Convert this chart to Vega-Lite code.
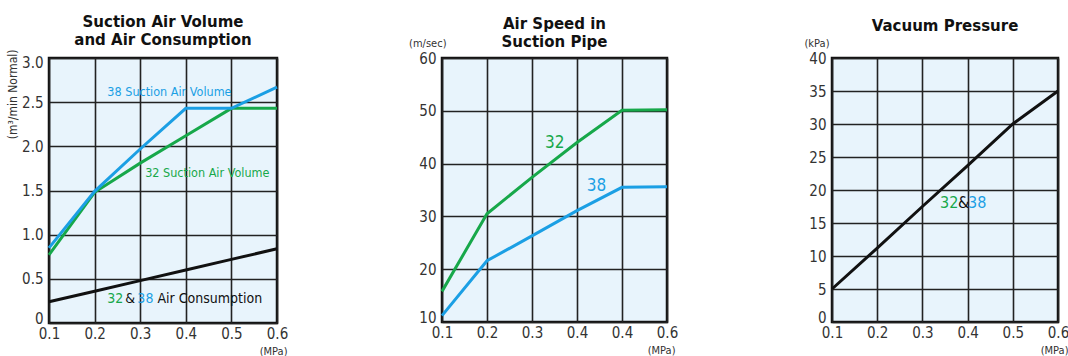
{
  "$schema": "https://vega.github.io/schema/vega-lite/v6.json",
  "padding": {"left": 4, "top": 13, "right": 0, "bottom": 0},
  "background": "white",
  "bounds": "flush",
  "spacing": 165,
  "datasets": {
    "vol": [
      {"p": 0.1, "v": 0.77, "s": "32"}, {"p": 0.2, "v": 1.48, "s": "32"}, {"p": 0.3, "v": 1.81, "s": "32"},
      {"p": 0.4, "v": 2.12, "s": "32"}, {"p": 0.5, "v": 2.43, "s": "32"}, {"p": 0.6, "v": 2.43, "s": "32"},
      {"p": 0.1, "v": 0.85, "s": "38"}, {"p": 0.2, "v": 1.49, "s": "38"}, {"p": 0.3, "v": 1.97, "s": "38"},
      {"p": 0.4, "v": 2.43, "s": "38"}, {"p": 0.5, "v": 2.43, "s": "38"}, {"p": 0.6, "v": 2.67, "s": "38"},
      {"p": 0.1, "v": 0.24, "s": "both"}, {"p": 0.2, "v": 0.36, "s": "both"}, {"p": 0.3, "v": 0.48, "s": "both"},
      {"p": 0.4, "v": 0.6, "s": "both"}, {"p": 0.5, "v": 0.72, "s": "both"}, {"p": 0.6, "v": 0.84, "s": "both"}
    ],
    "volLab": [
      {"p": 0.228, "v": 2.61, "t": "38 Suction Air Volume", "s": "38"},
      {"p": 0.311, "v": 1.7, "t": "32 Suction Air Volume", "s": "32"}
    ],
    "airLab": [
      {"p": 0.2278, "v": 0.27, "t": "32", "s": "32"},
      {"p": 0.2674, "v": 0.27, "t": "&", "s": "both"},
      {"p": 0.2938, "v": 0.27, "t": "38", "s": "38"},
      {"p": 0.3379, "v": 0.27, "t": "Air Consumption", "s": "both"}
    ],
    "speed": [
      {"p": 0.1, "v": 15.8, "s": "32"}, {"p": 0.2, "v": 30.5, "s": "32"}, {"p": 0.3, "v": 37.4, "s": "32"},
      {"p": 0.4, "v": 44.0, "s": "32"}, {"p": 0.5, "v": 50.1, "s": "32"}, {"p": 0.6, "v": 50.2, "s": "32"},
      {"p": 0.1, "v": 11.2, "s": "38"}, {"p": 0.2, "v": 21.6, "s": "38"}, {"p": 0.3, "v": 26.3, "s": "38"},
      {"p": 0.4, "v": 31.1, "s": "38"}, {"p": 0.5, "v": 35.5, "s": "38"}, {"p": 0.6, "v": 35.6, "s": "38"}
    ],
    "speedLab": [
      {"p": 0.329, "v": 43.96, "t": "32", "s": "32"},
      {"p": 0.4216, "v": 35.76, "t": "38", "s": "38"}
    ],
    "vac": [
      {"p": 0.1, "v": 5, "s": "both"}, {"p": 0.2, "v": 11.2, "s": "both"}, {"p": 0.3, "v": 17.5, "s": "both"},
      {"p": 0.4, "v": 23.7, "s": "both"}, {"p": 0.5, "v": 30, "s": "both"}, {"p": 0.6, "v": 35, "s": "both"}
    ],
    "vacLab": [
      {"p": 0.339, "v": 18.0, "t": "32", "s": "32"},
      {"p": 0.379, "v": 18.0, "t": "&", "s": "both"},
      {"p": 0.401, "v": 18.0, "t": "38", "s": "38"}
    ]
  },
  "config": {
    "view": {"fill": "#e8f4fc", "stroke": "#111111", "strokeWidth": 2.5},
    "axis": {
      "grid": true, "gridColor": "#222222", "gridWidth": 1.6, "gridOpacity": 1,
      "domain": false, "ticks": false, "labelOverlap": false, "labelBound": false,
      "labelFont": "'DejaVu Sans Condensed', 'Liberation Sans Narrow', 'Roboto Condensed', Roboto, sans-serif", "labelFontSize": 15, "labelColor": "#333333",
      "titleFont": "'DejaVu Sans Condensed', 'Liberation Sans Narrow', 'Roboto Condensed', Roboto, sans-serif", "titleFontWeight": "normal", "titleFontSize": 11, "titleColor": "#333333"
    },
    "axisX": {"labelPadding": 3, "labelFlush": false, "titleAngle": 0, "titleAlign": "right", "titleBaseline": "alphabetic", "titleY": 31},
    "axisY": {"labelPadding": 6, "labelFlush": false},
    "title": {"font": "DejaVu Sans", "fontWeight": "bold", "fontSize": 15, "color": "#111111", "lineHeight": 18, "frame": "group", "anchor": "middle"},
    "text": {"font": "'DejaVu Sans Condensed', 'Liberation Sans Narrow', 'Roboto Condensed', Roboto, sans-serif"}
  },
  "hconcat": [
    {
      "width": 228, "height": 265,
      "title": {"text": ["Suction Air Volume", "and Air Consumption"], "offset": 1},
      "layer": [
        {
          "data": {"name": "vol"},
          "mark": {"type": "line", "strokeWidth": 3},
          "encoding": {
            "x": {"field": "p", "type": "quantitative", "scale": {"domain": [0.1, 0.6], "nice": false},
              "axis": {"values": [0.1, 0.2, 0.3, 0.4, 0.5, 0.6], "tickCount": 20, "format": ".1f", "title": "(MPa)", "titleX": 238}},
            "y": {"field": "v", "type": "quantitative", "scale": {"domain": [0, 3], "nice": false},
              "axis": {"values": [0, 0.5, 1, 1.5, 2, 2.5, 3], "tickCount": 20, "labelExpr": "datum.value == 0 ? '0' : format(datum.value, '.1f')",
                "labelBaseline": {"condition": {"test": "datum.value == 0", "value": "alphabetic"}, "value": "middle"},
                "labelOffset": {"condition": {"test": "datum.value == 3", "value": 4}, "value": 0},
                "title": "(m³/min Normal)", "titleFontSize": 12, "titleAngle": 270, "titleAlign": "right", "titleBaseline": "alphabetic", "titleX": -33, "titleY": -9}},
            "color": {"field": "s", "type": "nominal", "scale": {"domain": ["32", "38", "both"], "range": ["#17a84a", "#1b9fe4", "#111111"]}, "legend": null}
          }
        },
        {
          "data": {"name": "volLab"},
          "mark": {"type": "text", "align": "left", "baseline": "middle", "fontSize": 12.5},
          "encoding": {
            "x": {"field": "p", "type": "quantitative"},
            "y": {"field": "v", "type": "quantitative"},
            "text": {"field": "t"},
            "color": {"field": "s", "type": "nominal", "scale": {"domain": ["32", "38", "both"], "range": ["#17a84a", "#1b9fe4", "#111111"]}, "legend": null}
          }
        },
        {
          "data": {"name": "airLab"},
          "mark": {"type": "text", "align": "left", "baseline": "middle", "fontSize": 14},
          "encoding": {
            "x": {"field": "p", "type": "quantitative"},
            "y": {"field": "v", "type": "quantitative"},
            "text": {"field": "t"},
            "color": {"field": "s", "type": "nominal", "scale": {"domain": ["32", "38", "both"], "range": ["#17a84a", "#1b9fe4", "#111111"]}, "legend": null}
          }
        }
      ]
    },
    {
      "width": 225, "height": 264,
      "title": {"text": ["Air Speed in", "Suction Pipe"], "offset": -13},
      "layer": [
        {
          "data": {"name": "speed"},
          "mark": {"type": "line", "strokeWidth": 3},
          "encoding": {
            "x": {"field": "p", "type": "quantitative", "scale": {"domain": [0.1, 0.6], "nice": false},
              "axis": {"values": [0.1, 0.2, 0.3, 0.4, 0.5, 0.6], "tickCount": 20, "labelExpr": "format(abs(datum.value - 0.5) < 0.01 ? 0.4 : datum.value, '.1f')", "title": "(MPa)", "titleX": 233}},
            "y": {"field": "v", "type": "quantitative", "scale": {"domain": [10, 60], "nice": false},
              "axis": {"values": [10, 20, 30, 40, 50, 60], "tickCount": 20,
                "labelBaseline": {"condition": {"test": "datum.value == 10", "value": "alphabetic"}, "value": "middle"},
                "title": "(m/sec)", "titleAngle": 0, "titleAlign": "right", "titleBaseline": "middle", "titleX": 4, "titleY": -15}},
            "color": {"field": "s", "type": "nominal", "scale": {"domain": ["32", "38", "both"], "range": ["#17a84a", "#1b9fe4", "#111111"]}, "legend": null}
          }
        },
        {
          "data": {"name": "speedLab"},
          "mark": {"type": "text", "align": "left", "baseline": "middle", "fontSize": 17},
          "encoding": {
            "x": {"field": "p", "type": "quantitative"},
            "y": {"field": "v", "type": "quantitative"},
            "text": {"field": "t"},
            "color": {"field": "s", "type": "nominal", "scale": {"domain": ["32", "38", "both"], "range": ["#17a84a", "#1b9fe4", "#111111"]}, "legend": null}
          }
        }
      ]
    },
    {
      "width": 226, "height": 264,
      "title": {"text": "Vacuum Pressure", "offset": 3},
      "layer": [
        {
          "data": {"name": "vac"},
          "mark": {"type": "line", "strokeWidth": 3},
          "encoding": {
            "x": {"field": "p", "type": "quantitative", "scale": {"domain": [0.1, 0.6], "nice": false},
              "axis": {"values": [0.1, 0.2, 0.3, 0.4, 0.5, 0.6], "tickCount": 20, "format": ".1f", "title": "(MPa)", "titleX": 236}},
            "y": {"field": "v", "type": "quantitative", "scale": {"domain": [0, 40], "nice": false},
              "axis": {"values": [0, 5, 10, 15, 20, 25, 30, 35, 40], "tickCount": 20,
                "labelBaseline": {"condition": {"test": "datum.value == 0", "value": "alphabetic"}, "value": "middle"},
                "title": "(kPa)", "titleAngle": 0, "titleAlign": "right", "titleBaseline": "middle", "titleX": -3, "titleY": -15}},
            "color": {"field": "s", "type": "nominal", "scale": {"domain": ["32", "38", "both"], "range": ["#17a84a", "#1b9fe4", "#111111"]}, "legend": null}
          }
        },
        {
          "data": {"name": "vacLab"},
          "mark": {"type": "text", "align": "left", "baseline": "middle", "fontSize": 16},
          "encoding": {
            "x": {"field": "p", "type": "quantitative"},
            "y": {"field": "v", "type": "quantitative"},
            "text": {"field": "t"},
            "color": {"field": "s", "type": "nominal", "scale": {"domain": ["32", "38", "both"], "range": ["#17a84a", "#1b9fe4", "#111111"]}, "legend": null}
          }
        }
      ]
    }
  ]
}
